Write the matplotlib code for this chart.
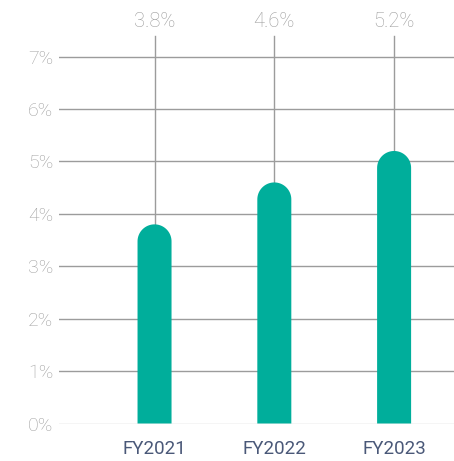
import numpy as np
import matplotlib
matplotlib.use("Agg")
import matplotlib.pyplot as plt
from matplotlib.patches import Polygon

plt.rcParams['font.family'] = ['Roboto', 'DejaVu Sans']

years = ["FY2021", "FY2022", "FY2023"]
rates = [3.8, 4.6, 5.2]
y_ticks = [0, 1, 2, 3, 4, 5, 6, 7]
y_labels = [f"{t}%" for t in y_ticks]
value_labels = [f"{v}%" for v in rates]

bar_color = "#00ae9b"
grid_color = "#9c9c9c"

W, H = 454, 461
fig = plt.figure(figsize=(W / 100, H / 100), dpi=100)
ax_left, ax_bottom, ax_top = 58.7, 423.5, 35.7
ax = fig.add_axes([ax_left / W, (H - ax_bottom) / H, 1 - ax_left / W, (ax_bottom - ax_top) / H])

x_min, x_max = -0.8, 2.5
y_min, y_max = 0, 7.4
ax.set_xlim(x_min, x_max)
ax.set_ylim(y_min, y_max)

# horizontal gridlines
for t in y_ticks:
    ax.axhline(t, color="#cfcfcf" if t == 0 else grid_color, lw=1.0, zorder=1)

# pixel-to-data conversion so the bar caps are true semicircles
px_per_x = (W - ax_left) / (x_max - x_min)
px_per_y = (ax_bottom - ax_top) / (y_max - y_min)
bar_px = 34
half_w = (bar_px / 2) / px_per_x
ry = (bar_px / 2) / px_per_y
theta = np.linspace(0, np.pi, 60)

xs = list(range(len(years)))
for x, v, lab in zip(xs, rates, value_labels):
    # leader line from the value label down to the bar top
    ax.plot([x, x], [v, y_max], color=grid_color, lw=1.0, zorder=2, clip_on=False)
    cy = v - ry
    cap_x = x + half_w * np.cos(theta)
    cap_y = cy + ry * np.sin(theta)
    px = np.concatenate([[x + half_w], cap_x, [x - half_w]])
    py = np.concatenate([[0], cap_y, [0]])
    ax.add_patch(Polygon(np.column_stack([px, py]), closed=True,
                         facecolor=bar_color, edgecolor="none", zorder=3))
    ax.annotate(lab, xy=(x, y_max), xytext=(0, 10.5), textcoords="offset points",
                ha="center", va="center", fontsize=14.5, color="#9c9c9c",
                fontweight="light", annotation_clip=False)

ax.set_yticks(y_ticks)
ax.set_yticklabels(y_labels)
ax.set_xticks(xs)
ax.set_xticklabels(years)
ax.tick_params(axis="y", length=0, pad=4, labelsize=14, labelcolor="#a0a0a0")
ax.tick_params(axis="x", length=0, pad=12, labelsize=13.5, labelcolor="#4a5878")
for lbl in ax.get_yticklabels():
    lbl.set_fontweight("light")
for s in ax.spines.values():
    s.set_visible(False)

fig.savefig("out.png", dpi=100)
